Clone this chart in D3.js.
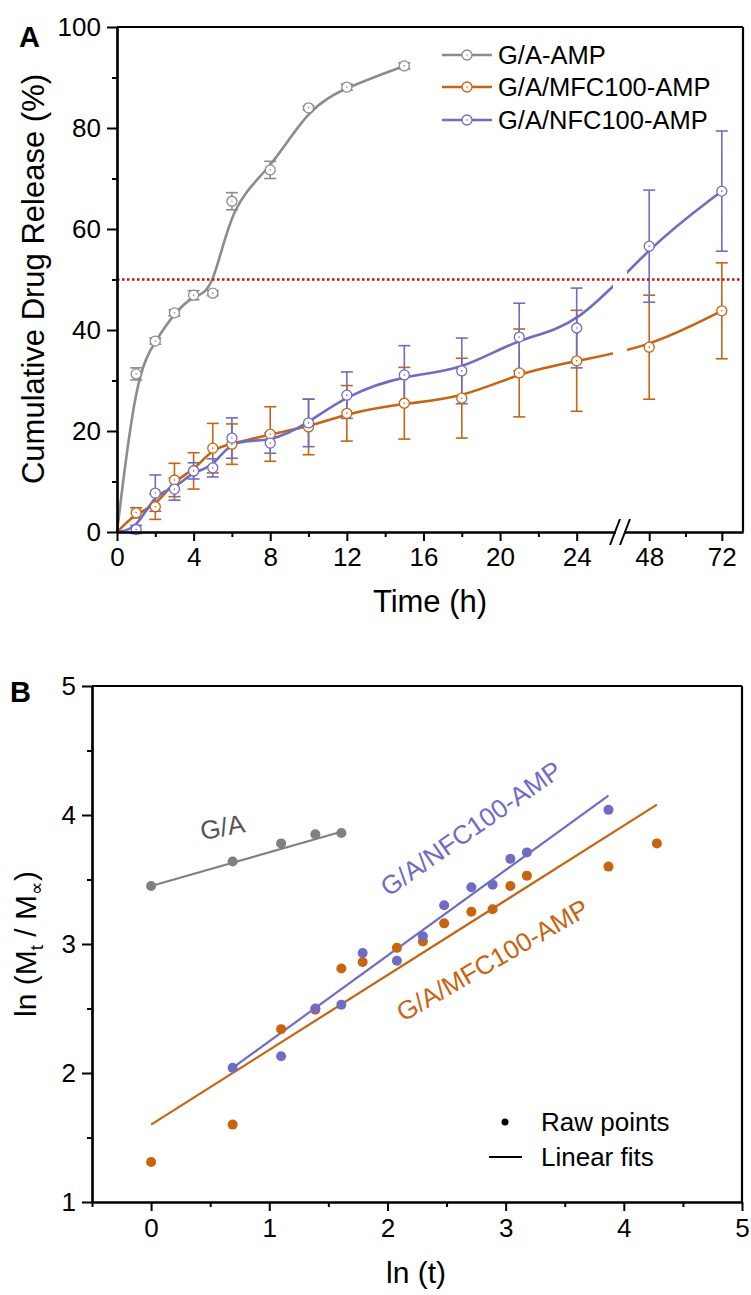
<!DOCTYPE html>
<html>
<head>
<meta charset="utf-8">
<script src="https://cdn.jsdelivr.net/npm/d3@7"></script>
<style>
  body { margin: 0; background: #fff; }
  svg { display: block; font-family: "Liberation Sans", Arial, sans-serif; }
</style>
</head>
<body>
<svg id="chart" width="751" height="1295"></svg>
<script>
// ---- panel A data (cumulative release, %) ----
var gaTime = [1, 2, 3, 4, 5, 6, 8, 10, 12, 15];
var gaMean = [31.3, 37.8, 43.4, 46.9, 47.3, 65.5, 71.7, 84.0, 88.1, 92.3];
var gaErr  = [1.2, 0.6, 0.6, 0.9, 0.5, 1.7, 1.7, 0.4, 0.6, 0.6];

var fcTime  = [1, 2, 3, 4, 5, 6, 8, 10, 12, 15, 18, 21, 24, 48, 72];
var mfcMean = [3.8, 5.0, 10.3, 12.1, 16.6, 17.4, 19.4, 20.8, 23.5, 25.5, 26.5, 31.5, 33.9, 36.6, 43.8];
var mfcErr  = [1.0, 2.5, 3.3, 3.6, 4.9, 4.0, 5.4, 5.5, 5.5, 7.1, 7.9, 8.7, 10.0, 10.3, 9.5];
var nfcMean = [0.5, 7.7, 8.5, 12.1, 12.7, 18.6, 17.6, 21.6, 27.1, 31.1, 31.9, 38.6, 40.4, 56.6, 67.5];
var nfcErr  = [0.8, 3.6, 2.2, 1.6, 1.8, 4.0, 2.0, 4.7, 4.6, 5.8, 6.5, 6.7, 7.9, 11.1, 11.9];

var startPoint = [0, 0];
var halfLine = 50;

var timeMajor = [0, 4, 8, 12, 16, 20, 24, 48, 72];
var timeMinor = [2, 6, 10, 14, 18, 22, 60];
var relMajor = [0, 20, 40, 60, 80, 100];
var relMinor = [10, 30, 50, 70, 90];

var seriesNames = ["G/A-AMP", "G/A/MFC100-AMP", "G/A/NFC100-AMP"];
var colors = ["#8c8c8c", "#c8640f", "#6f6cc6"];

// ---- panel B data (ln t vs ln Mt) ----
var gaLnT = [0, 0.69, 1.10, 1.39, 1.61];
var gaLnM = [3.45, 3.64, 3.78, 3.85, 3.86];
var mfcLnT = [0, 0.69, 1.10, 1.39, 1.61, 1.79, 2.08, 2.30, 2.48, 2.71, 2.89, 3.04, 3.18, 3.87, 4.28];
var mfcLnM = [1.31, 1.60, 2.34, 2.49, 2.81, 2.86, 2.97, 3.02, 3.16, 3.25, 3.27, 3.45, 3.53, 3.60, 3.78];
var nfcLnT = [0.69, 1.10, 1.39, 1.61, 1.79, 2.08, 2.30, 2.48, 2.71, 2.89, 3.04, 3.18, 3.87];
var nfcLnM = [2.04, 2.13, 2.50, 2.53, 2.93, 2.87, 3.06, 3.30, 3.44, 3.46, 3.66, 3.71, 4.04];

// fit line end points [x0, y0, x1, y1]
var gaFit  = [0, 3.45, 1.61, 3.87];
var mfcFit = [0, 1.60, 4.28, 4.08];
var nfcFit = [0.69, 2.04, 3.87, 4.15];

var lnTMajor = [0, 1, 2, 3, 4, 5];
var lnTMinor = [-0.5, 0.5, 1.5, 2.5, 3.5, 4.5];
var lnMMajor = [1, 2, 3, 4, 5];
var lnMMinor = [1.5, 2.5, 3.5, 4.5];

var svg = d3.select("#chart");

// ================= PANEL A =================
var xA = d3.scaleLinear().domain([0, 26, 40, 79]).range([117, 615, 625, 743]);
var yA = d3.scaleLinear().domain([0, 100]).range([532, 27]);

var gA = svg.append("g");

function errorBars(g, xs, ys, es, color, capW) {
	var grp = g.append("g").attr("stroke", color).attr("stroke-width", 1.6).attr("fill", "none");
	xs.forEach(function(t, i) {
		var x = xA(t), y0 = yA(ys[i] - es[i]), y1 = yA(ys[i] + es[i]);
		grp.append("line").attr("x1", x).attr("x2", x).attr("y1", y0).attr("y2", y1);
		grp.append("line").attr("x1", x - capW).attr("x2", x + capW).attr("y1", y0).attr("y2", y0);
		grp.append("line").attr("x1", x - capW).attr("x2", x + capW).attr("y1", y1).attr("y2", y1);
	});
}

function curve(g, xs, ys, color) {
	var pts = [startPoint].concat(xs.map(function(t, i) { return [t, ys[i]]; }));
	g.append("path")
		.attr("d", d3.line().x(function(d) { return xA(d[0]); }).y(function(d) { return yA(d[1]); }).curve(d3.curveBasis)(pts))
		.attr("fill", "none").attr("stroke", color).attr("stroke-width", 2.6);
}

function markers(g, xs, ys, color) {
	xs.forEach(function(t, i) {
		g.append("circle").attr("cx", xA(t)).attr("cy", yA(ys[i])).attr("r", 5)
			.attr("fill", "white").attr("stroke", color).attr("stroke-width", 1.3);
		g.append("circle").attr("cx", xA(t)).attr("cy", yA(ys[i])).attr("r", 0.8).attr("fill", color);
	});
}

errorBars(gA, fcTime, mfcMean, mfcErr, colors[1], 6);
errorBars(gA, fcTime, nfcMean, nfcErr, colors[2], 6);
errorBars(gA, gaTime, gaMean, gaErr, colors[0], 6);
curve(gA, fcTime, mfcMean, colors[1]);
curve(gA, fcTime, nfcMean, colors[2]);
curve(gA, gaTime, gaMean, colors[0]);

// gap of the broken axis
gA.append("rect").attr("x", xA(26) - 2).attr("y", 28).attr("width", xA(40) - xA(26) + 4).attr("height", 502).attr("fill", "white");

markers(gA, fcTime, mfcMean, colors[1]);
markers(gA, fcTime, nfcMean, colors[2]);
markers(gA, gaTime, gaMean, colors[0]);

// 50% line
gA.append("line").attr("x1", xA(0)).attr("x2", xA(79)).attr("y1", yA(halfLine)).attr("y2", yA(halfLine))
	.attr("stroke", "#cc1111").attr("stroke-width", 2.5).attr("stroke-dasharray", "2.5,2.5");

// axes
gA.append("g").attr("transform", "translate(0,532)")
	.call(d3.axisBottom(xA).tickValues(timeMajor).tickSize(9).tickPadding(7).tickSizeOuter(0));
gA.append("g").attr("transform", "translate(0,532)")
	.call(d3.axisBottom(xA).tickValues(timeMinor).tickSize(5).tickFormat("").tickSizeOuter(0));
gA.append("g").attr("transform", "translate(117,0)")
	.call(d3.axisLeft(yA).tickValues(relMajor).tickSize(10).tickPadding(6).tickSizeOuter(0));
gA.append("g").attr("transform", "translate(117,0)")
	.call(d3.axisLeft(yA).tickValues(relMinor).tickSize(5).tickFormat("").tickSizeOuter(0));
gA.append("line").attr("x1", 117).attr("x2", 743).attr("y1", 27).attr("y2", 27).attr("stroke", "black").attr("stroke-width", 2.2);
gA.append("line").attr("x1", 743).attr("x2", 743).attr("y1", 27).attr("y2", 532).attr("stroke", "black").attr("stroke-width", 2.2);

// break in x axis
gA.append("rect").attr("x", xA(26) + 1).attr("y", 528).attr("width", xA(40) - xA(26) - 2).attr("height", 8).attr("fill", "white");
[xA(26), xA(40)].forEach(function(bx) {
	gA.append("line").attr("x1", bx - 5).attr("x2", bx + 5).attr("y1", 545).attr("y2", 519)
		.attr("stroke", "black").attr("stroke-width", 2);
});

gA.append("text").attr("transform", "translate(44,279) rotate(-90)").attr("text-anchor", "middle")
	.attr("font-size", 31).text("Cumulative Drug Release (%)");
gA.append("text").attr("x", 430).attr("y", 612).attr("text-anchor", "middle")
	.attr("font-size", 31).text("Time (h)");
gA.append("text").attr("x", 19).attr("y", 47).attr("font-size", 29).attr("font-weight", "bold").text("A");

// legend A
var legRows = [55, 87, 120];
seriesNames.forEach(function(name, i) {
	var ly = legRows[i];
	gA.append("line").attr("x1", 442).attr("x2", 492).attr("y1", ly).attr("y2", ly)
		.attr("stroke", colors[i]).attr("stroke-width", 2.6);
	gA.append("circle").attr("cx", 467).attr("cy", ly).attr("r", 5).attr("fill", "white")
		.attr("stroke", colors[i]).attr("stroke-width", 1.3);
	gA.append("circle").attr("cx", 467).attr("cy", ly).attr("r", 0.8).attr("fill", colors[i]);
	gA.append("text").attr("x", 498).attr("y", ly + 9).attr("font-size", 25.5).text(name);
});

// ================= PANEL B =================
var xB = d3.scaleLinear().domain([-0.5, 5]).range([92, 742]);
var yB = d3.scaleLinear().domain([1, 5]).range([1202, 686]);
var gB = svg.append("g");

function fitLine(f, color) {
	gB.append("line").attr("x1", xB(f[0])).attr("y1", yB(f[1])).attr("x2", xB(f[2])).attr("y2", yB(f[3]))
		.attr("stroke", color).attr("stroke-width", 2.2);
}
function dots(xs, ys, color, r) {
	gB.selectAll(null).data(xs).enter().append("circle")
		.attr("cx", function(d) { return xB(d); })
		.attr("cy", function(d, i) { return yB(ys[i]); })
		.attr("r", r).attr("fill", color);
}

fitLine(gaFit, "#808080");
fitLine(mfcFit, colors[1]);
fitLine(nfcFit, colors[2]);
dots(gaLnT, gaLnM, "#808080", 5);
dots(mfcLnT, mfcLnM, colors[1], 5);
dots(nfcLnT, nfcLnM, colors[2], 5);

gB.append("g").attr("transform", "translate(0,1202)")
	.call(d3.axisBottom(xB).tickValues(lnTMajor).tickSize(9).tickPadding(8).tickSizeOuter(0).tickFormat(d3.format("d")));
gB.append("g").attr("transform", "translate(0,1202)")
	.call(d3.axisBottom(xB).tickValues(lnTMinor).tickSize(5).tickFormat("").tickSizeOuter(0));
gB.append("g").attr("transform", "translate(92,0)")
	.call(d3.axisLeft(yB).tickValues(lnMMajor).tickSize(10).tickPadding(6).tickSizeOuter(0).tickFormat(d3.format("d")));
gB.append("g").attr("transform", "translate(92,0)")
	.call(d3.axisLeft(yB).tickValues(lnMMinor).tickSize(5).tickFormat("").tickSizeOuter(0));
gB.append("line").attr("x1", 92).attr("x2", 742).attr("y1", 686).attr("y2", 686).attr("stroke", "black").attr("stroke-width", 2.2);
gB.append("line").attr("x1", 742).attr("x2", 742).attr("y1", 686).attr("y2", 1202).attr("stroke", "black").attr("stroke-width", 2.2);

var ylab = gB.append("text").attr("transform", "translate(36,944) rotate(-90)").attr("text-anchor", "middle")
	.attr("font-size", 30);
ylab.append("tspan").text("ln (M");
ylab.append("tspan").attr("font-size", 19).attr("dy", 7).text("t");
ylab.append("tspan").attr("dy", -7).text(" / M");
ylab.append("tspan").attr("font-size", 19).attr("dy", 7).text("\u221d");
ylab.append("tspan").attr("dy", -7).text(")");

gB.append("text").attr("x", 416).attr("y", 1283).attr("text-anchor", "middle").attr("font-size", 30).text("ln (t)");
gB.append("text").attr("x", 10).attr("y", 702).attr("font-size", 29).attr("font-weight", "bold").text("B");

// in-plot labels
gB.append("text").attr("transform", "translate(224,836) rotate(-10)").attr("text-anchor", "middle")
	.attr("font-size", 26).attr("fill", "#555").text("G/A");
gB.append("text").attr("transform", "translate(476,836) rotate(-35)").attr("text-anchor", "middle")
	.attr("font-size", 26).attr("fill", colors[2]).text("G/A/NFC100-AMP");
gB.append("text").attr("transform", "translate(497,968) rotate(-30)").attr("text-anchor", "middle")
	.attr("font-size", 26).attr("fill", colors[1]).text("G/A/MFC100-AMP");

// legend B
gB.append("circle").attr("cx", 505).attr("cy", 1122).attr("r", 3.5).attr("fill", "black");
gB.append("text").attr("x", 541).attr("y", 1131).attr("font-size", 26).text("Raw points");
gB.append("line").attr("x1", 489).attr("x2", 522).attr("y1", 1157).attr("y2", 1157).attr("stroke", "black").attr("stroke-width", 2.2);
gB.append("text").attr("x", 541).attr("y", 1166).attr("font-size", 26).text("Linear fits");

// common axis styling
svg.selectAll(".domain").attr("stroke-width", 2.2);
svg.selectAll(".tick line").attr("stroke-width", 2);
svg.selectAll(".tick text").attr("font-size", 26).attr("font-family", "'Liberation Sans', Arial, sans-serif").attr("fill", "black");
</script>
</body>
</html>
